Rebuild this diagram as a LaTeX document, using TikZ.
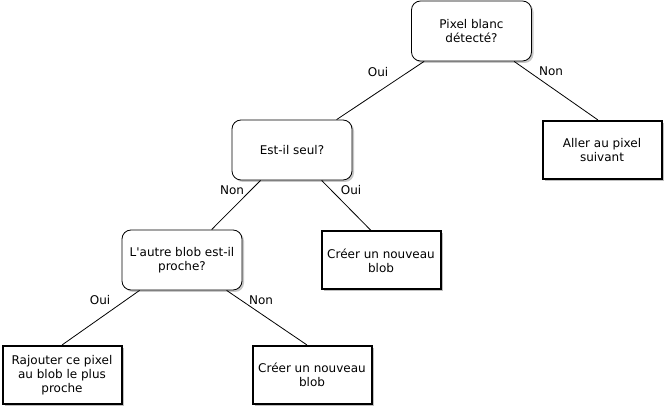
\documentclass[tikz,border=0pt]{standalone}
\usepackage{fontspec}
\setmainfont{DejaVu Sans}
\usetikzlibrary{shadows}

\tikzset{
  test/.style={draw, rounded corners=9pt, line width=.8pt, fill=white,
    minimum width=120pt, minimum height=60pt, inner sep=0pt, align=center,
    font=\fontsize{12pt}{14pt}\selectfont,
    drop shadow={shadow xshift=2pt, shadow yshift=-2pt, fill=black!22, opacity=1}},
  action/.style={draw, line width=2pt, fill=white,
    minimum width=119pt, minimum height=58pt, inner sep=0pt, align=center,
    font=\fontsize{12pt}{14pt}\selectfont,
    drop shadow={shadow xshift=2pt, shadow yshift=-2pt, fill=black!25, opacity=1}},
  lbl/.style={inner sep=1pt, font=\fontsize{12pt}{14pt}\selectfont},
  link/.style={line width=.8pt}
}

\begin{document}
\begin{tikzpicture}[x=1pt, y=-1pt]
    \useasboundingbox (0,0) rectangle (665,411);
    % questions
    \node[test] (pixel) at (471.5,31) {Pixel blanc\\détecté?};
    \node[test] (seul) at (292,150) {Est-il seul?};
    \node[test] (autre) at (182,260) {L\textquotesingle autre blob est-il\\proche?};
    % actions
    \node[action] (suivant) at (602,150) {Aller au pixel\\suivant};
    \node[action] (nouveau) at (381,260.5) {Créer un nouveau\\blob};
    \node[action] (rajout) at (62,375) {Rajouter ce pixel\\au blob le plus\\proche};
    \node[action] (nouveaubis) at (312,375) {Créer un nouveau\\blob};
    % branches
    \draw[link] ([xshift=13pt]pixel.south west) -- ([xshift=105pt]seul.north west);
    \draw[link] ([xshift=103pt]pixel.south west) -- ([xshift=-4pt]suivant.north);
    \draw[link] ([xshift=29pt]seul.south west) -- ([xshift=90pt]autre.north west);
    \draw[link] ([xshift=90pt]seul.south west) -- ([xshift=-10pt]nouveau.north);
    \draw[link] ([xshift=18pt]autre.south west) -- (rajout.north);
    \draw[link] ([xshift=105pt]autre.south west) -- ([xshift=-5pt]nouveaubis.north);
    % labels
    \node[lbl] (oui1) at (378,72) {Oui};
    \node[lbl] (non1) at (551,71) {Non};
    \node[lbl] (non2) at (232,190) {Non};
    \node[lbl] (oui2) at (351,190) {Oui};
    \node[lbl] (oui3) at (100,300) {Oui};
    \node[lbl] (non3) at (261,300) {Non};
\end{tikzpicture}
\end{document}
